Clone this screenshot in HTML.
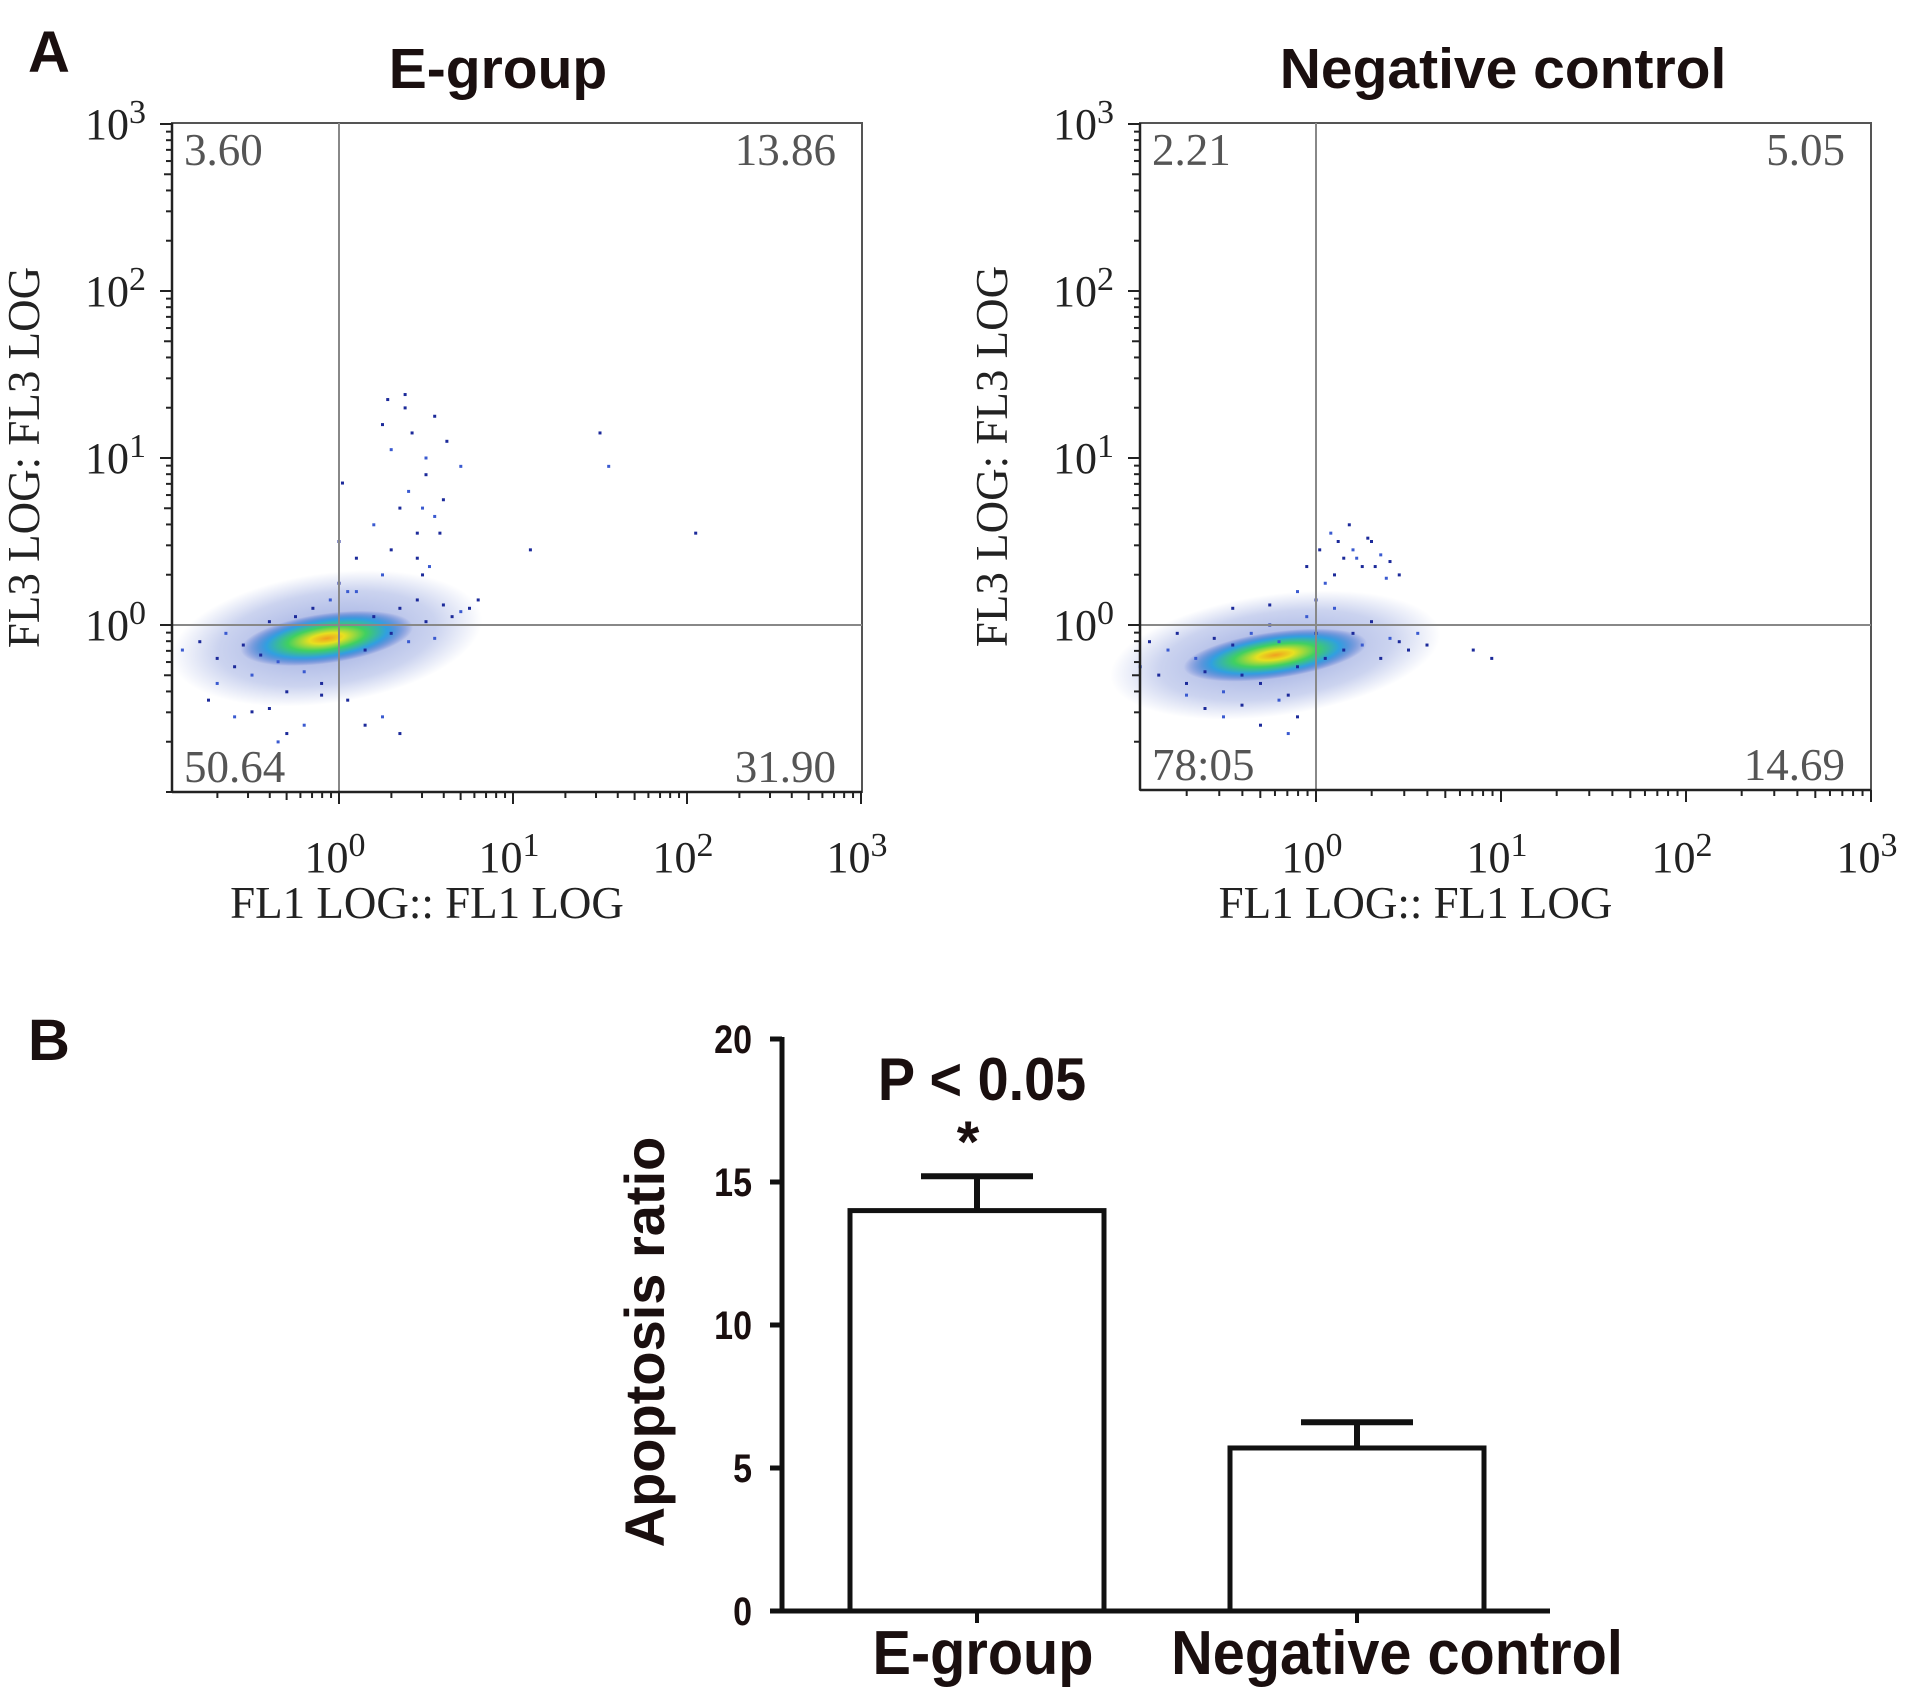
<!DOCTYPE html>
<html><head><meta charset="utf-8"><style>
html,body{margin:0;padding:0;background:#fff;}
svg{display:block;}
.serif{font-family:"Liberation Serif",serif;fill:#222;}
.sans{font-family:"Liberation Sans",sans-serif;font-weight:bold;fill:#1a0f0f;}
</style></head><body>
<svg id="fig" width="1913" height="1698" viewBox="0 0 1913 1698" xmlns="http://www.w3.org/2000/svg">
<defs>
<radialGradient id="core" cx="50%" cy="50%" r="50%">
<stop offset="0" stop-color="#f0a020"/><stop offset="0.2" stop-color="#e8e020"/><stop offset="0.45" stop-color="#40d060"/><stop offset="0.7" stop-color="#30a0e0"/><stop offset="1" stop-color="#2040c0" stop-opacity="0"/>
</radialGradient>
<radialGradient id="halo" cx="50%" cy="50%" r="50%">
<stop offset="0" stop-color="#3050c0" stop-opacity="0.5"/><stop offset="0.7" stop-color="#3050c0" stop-opacity="0.25"/><stop offset="1" stop-color="#3050c0" stop-opacity="0"/>
</radialGradient>
</defs>
<text class="sans" x="28" y="72" font-size="58">A</text>
<text class="sans" x="28" y="1060" font-size="58">B</text>
<g id="plotL"></g>
<g id="plotR"></g>
<g id="bars"></g>
</svg>
<script>
// ---- Flow cytometry data (log10 coordinates) ----
const quadE = ["3.60","13.86","50.64","31.90"];
const quadN = ["2.21","5.05","78:05","14.69"];
const coreE = [-0.07, -0.08, 0.5, 0.15];   // cx, cy, rx, ry (log units)
const coreN = [-0.22, -0.18, 0.5, 0.14];
const ptsEx = [-0.9,-0.8,-0.7,-0.65,-0.6,-0.55,-0.5,-0.45,-0.4,-0.35,-0.3,-0.25,-0.2,-0.15,-0.1,-0.05,0,0.05,0.1,0.15,0.2,0.25,0.3,0.35,0.4,0.45,0.5,0.55,0.6,0.65,0.7,0.75,0.8,-0.6,-0.4,-0.3,-0.2,0,0.1,0.2,0.3,0.35,0.4,0.45,0.5,0.55,0.6,0.25,0.3,0.38,0.42,0.5,0.55,0.62,0.7,0.45,0.48,-0.35,-0.75,0.02,0.52,0.58,1.5,1.55,2.05,1.1,0.25,0.35,0.15,0.05,-0.1,-0.5,-0.7,0.28,0.38,0.48];
const ptsEy = [-0.15,-0.1,-0.2,-0.05,-0.25,-0.12,-0.3,-0.18,0.02,-0.22,-0.4,0.05,-0.28,0.1,-0.35,0.15,0.25,-0.45,0.2,-0.15,0.05,0.3,-0.05,0.1,-0.1,0.15,0.02,-0.08,0.12,0.05,0.08,0.1,0.15,-0.55,-0.5,-0.65,-0.6,0.5,0.4,0.6,0.45,0.7,0.8,0.55,0.9,0.65,0.75,1.2,1.05,1.3,1.15,1.0,1.25,1.1,0.95,0.4,0.3,-0.7,-0.45,0.85,0.35,0.55,1.15,0.95,0.55,0.45,-0.55,-0.65,-0.6,0.2,-0.42,-0.52,-0.35,1.35,1.38,0.7];
const ptsNx = [-0.95,-0.9,-0.85,-0.8,-0.75,-0.7,-0.65,-0.6,-0.55,-0.5,-0.45,-0.4,-0.35,-0.3,-0.25,-0.2,-0.15,-0.1,-0.05,0,0.05,0.1,0.15,0.2,0.25,0.3,0.35,0.4,0.45,0.5,0.55,0.6,-0.6,-0.5,-0.4,-0.3,-0.2,-0.1,0.0,0.05,0.1,0.15,0.2,0.25,0.3,0.35,0.4,0.45,-0.1,-0.05,0.02,0.08,0.12,0.18,0.22,0.28,0.32,0.38,0.85,0.95,-0.7,-0.45,-0.25,-0.15];
const ptsNy = [-0.25,-0.1,-0.3,-0.15,-0.05,-0.35,-0.2,-0.28,-0.08,-0.4,-0.12,-0.3,-0.05,-0.35,0.0,-0.1,-0.42,-0.25,0.05,-0.05,-0.2,0.1,-0.15,-0.05,-0.12,0.02,-0.2,-0.08,-0.1,-0.15,-0.05,-0.12,-0.5,-0.55,-0.48,-0.6,-0.45,-0.55,0.15,0.25,0.3,0.4,0.45,0.35,0.5,0.42,0.38,0.3,0.2,0.35,0.45,0.55,0.5,0.6,0.4,0.52,0.35,0.28,-0.15,-0.2,-0.42,0.1,0.12,-0.65];
const xTicks = ["0","1","2","3"];
const yTicks = ["0","1","2","3"];

function flowPlot(gid, box, org, dec, quad, core, px, py, title, titleX) {
  const g = document.getElementById(gid);
  const NS = "http://www.w3.org/2000/svg";
  const [L,T,R,B] = box;
  const xs = l => org[0] + dec[0]*l;
  const ys = l => org[1] - dec[1]*l;
  const mk = (tag, attrs, parent) => { const e = document.createElementNS(NS, tag); for (const k in attrs) e.setAttribute(k, attrs[k]); (parent||g).appendChild(e); return e; };
  const t = mk("text", {x: titleX, y: 88, "text-anchor":"middle", "font-size": 57, class:"sans"});
  t.textContent = title;
  
  
  const rot = `rotate(-8 ${xs(core[0])} ${ys(core[1])})`;
  const h = mk("ellipse", {cx: xs(core[0]), cy: ys(core[1]), rx: dec[0]*core[2]*1.8, ry: dec[1]*core[3]*2.6, fill:"url(#halo)", transform: rot});
  
  
  const c = mk("ellipse", {cx: xs(core[0]), cy: ys(core[1]), rx: dec[0]*core[2], ry: dec[1]*core[3], fill:"url(#core)", transform: rot});
  
  
  for (let i = 0; i < px.length; i++) {
    const d = mk("rect", {x: xs(px[i]) - 1.5, y: ys(py[i]) - 1.5, width: 3, height: 3, fill: i % 3 ? "#1c2a9a" : "#3a5ad0"});
    
    
  }
  const f = mk("rect", {x:L, y:T, width:R-L, height:B-T, fill:"none", stroke:"#555", "stroke-width":2});
  
  
  const vx = mk("line", {x1: xs(0), x2: xs(0), y1: T, y2: B, stroke:"#888", "stroke-width":2});
  
  
  const hy = mk("line", {x1: L, x2: R, y1: ys(0), y2: ys(0), stroke:"#888", "stroke-width":2});
  
  
  mk("line", {x1:L, x2:L, y1:T, y2:B, stroke:"#222", "stroke-width":2.5});
  mk("line", {x1:L, x2:R, y1:B, y2:B, stroke:"#222", "stroke-width":2.5});
  for (let d = -1; d < 3; d++) for (let m = 1; m <= 10; m++) {
    const l = d + Math.log10(m);
    const X = xs(l), Y = ys(l);
    const len = m === 10 ? 12 : (m === 5 ? 8 : 6);
    if (X >= L - 1 && X <= R + 1) mk("line", {x1:X, x2:X, y1:B, y2:B+len, stroke:"#222", "stroke-width":2});
    if (Y >= T - 1 && Y <= B + 1) mk("line", {x1:L, x2:L-len, y1:Y, y2:Y, stroke:"#222", "stroke-width":2});
  }
  xTicks.forEach(s => {
    const X = xs(+s);
    const tx = mk("text", {x: X - 4, y: 872, "text-anchor":"middle", "font-size":44, class:"serif"});
    tx.innerHTML = `10<tspan dy="-16" font-size="34">${s}</tspan>`;
    
    
  });
  yTicks.forEach(s => {
    const Y = ys(+s);
    const ty = mk("text", {x: L - 26, y: Y + 15, "text-anchor":"end", "font-size":44, class:"serif"});
    ty.innerHTML = `10<tspan dy="-16" font-size="34">${s}</tspan>`;
    
    
  });
  const qpos = [[L+12, T+42, "start"], [R-26, T+42, "end"], [L+12, B-10, "start"], [R-26, B-10, "end"]];
  quad.forEach((q, i) => {
    const e = mk("text", {x: qpos[i][0], y: qpos[i][1], "text-anchor": qpos[i][2], "font-size":45, class:"serif", style:"fill:#555"});
    e.textContent = q;
    
    
  });
  const xt = mk("text", {x: (L+R)/2 - 90, y: 918, "text-anchor":"middle", "font-size":45, class:"serif"});
  xt.textContent = "FL1 LOG:: FL1 LOG";
  
  
  const yt = mk("text", {x: 0, y: 0, "text-anchor":"middle", "font-size":45, class:"serif", transform:`translate(${L-133} ${(T+B)/2}) rotate(-90)`});
  yt.textContent = "FL3 LOG: FL3 LOG";
  
  
}
flowPlot("plotL", [172,123,862,792], [339,625], [174,167], quadE, coreE, ptsEx, ptsEy, "E-group", 498);
flowPlot("plotR", [1140,123,1871,790], [1316,625], [185,167], quadN, coreN, ptsNx, ptsNy, "Negative control", 1503);

// ---- Bar chart data ----
const barCats = ["E-group", "Negative control"];
const barVals = [14.0, 5.7];
const barErr = [1.2, 0.9];
const barTicks = [0, 5, 10, 15, 20];
(function(){
  const g = document.getElementById("bars");
  const NS = "http://www.w3.org/2000/svg";
  const mk = (tag, attrs) => { const e = document.createElementNS(NS, tag); for (const k in attrs) e.setAttribute(k, attrs[k]); g.appendChild(e); return e; };
  const ax = 782, y0 = 1611, y20 = 1039, xEnd = 1550;
  const ys = v => y0 - (y0 - y20) * v / 20;
  const centers = [977, 1357], bw = 254, labShift = [6, 40];
  barTicks.forEach(v => {
    mk("line", {x1: ax-12, x2: ax, y1: ys(v), y2: ys(v), stroke:"#111", "stroke-width":5});
    const t = mk("text", {x: ax - 30, y: ys(v) + 14, "text-anchor":"end", "font-size":40, class:"sans", transform:`translate(${(ax-30)*0.15} 0) scale(0.85 1)`});
    t.textContent = v;
    
    
  });
  mk("line", {x1: ax, x2: ax, y1: y20-2, y2: y0+2, stroke:"#111", "stroke-width":5});
  barVals.forEach((v, i) => {
    const cx = centers[i];
    const r = mk("rect", {x: cx - bw/2, y: ys(v), width: bw, height: y0 - ys(v), fill:"#fff", stroke:"#111", "stroke-width":5});
    
    
    const e = mk("path", {d:`M${cx} ${ys(v)} V${ys(v+barErr[i])} M${cx-56} ${ys(v+barErr[i])} H${cx+56}`, stroke:"#111", "stroke-width":6, fill:"none"});
    
    
    mk("line", {x1: cx, x2: cx, y1: y0, y2: y0 + 12, stroke:"#111", "stroke-width":4});
    const lx = cx + labShift[i];
    const lab = mk("text", {x: lx, y: 1674, "text-anchor":"middle", "font-size":62, class:"sans", transform:`translate(${lx*0.07} 0) scale(0.93 1)`});
    lab.textContent = barCats[i];
    
    
  });
  mk("line", {x1: ax, x2: xEnd, y1: y0, y2: y0, stroke:"#111", "stroke-width":5});
  const p = mk("text", {x: 982, y: 1100, "text-anchor":"middle", "font-size":60, class:"sans", transform:`translate(${982*0.07} 0) scale(0.93 1)`});
  p.textContent = "P < 0.05";
  
  
  const s = mk("text", {x: 968, y: 1162, "text-anchor":"middle", "font-size":58, class:"sans"});
  s.textContent = "*";
  
  
  const yt = mk("text", {x:0, y:0, "text-anchor":"middle", "font-size":56, class:"sans", transform:"translate(664 1342) rotate(-90)"});
  yt.textContent = "Apoptosis ratio";
  
  
})();
</script>
</body></html>
